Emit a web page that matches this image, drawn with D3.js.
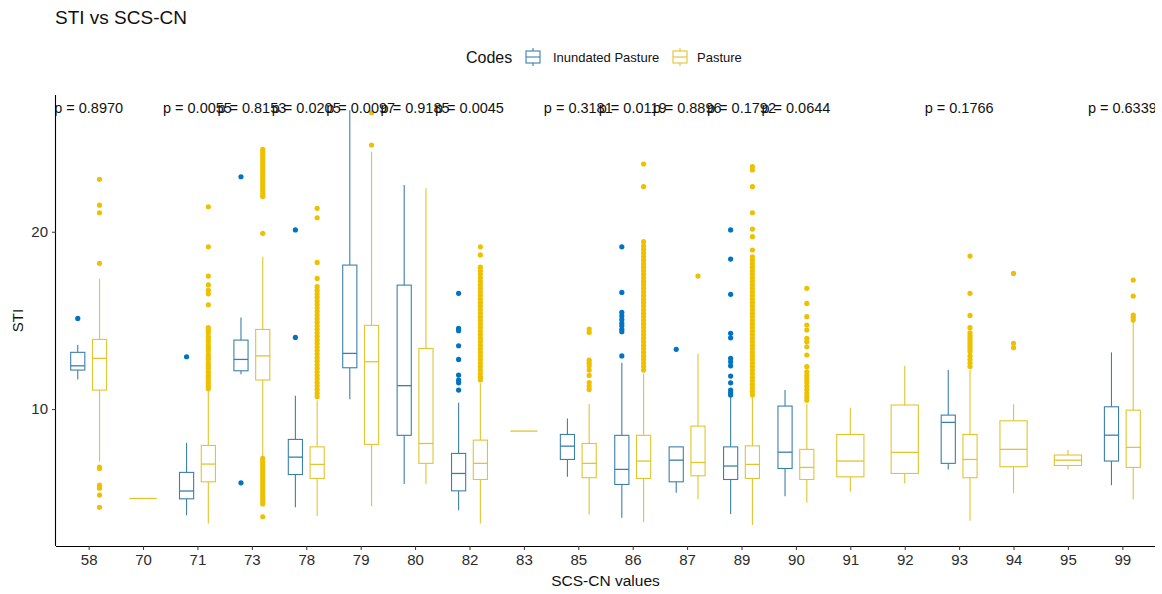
<!DOCTYPE html>
<html>
<head>
<meta charset="utf-8">
<script src="https://cdn.jsdelivr.net/npm/d3@7/dist/d3.min.js"></script>
<style>
  body { margin: 0; background: #fff; }
  svg { font-family: 'Liberation Sans', Arial, sans-serif; }
</style>
</head>
<body>
<svg id="chart"></svg>
<script>
// SCS-CN classes on the x axis
const categories = ['58', '70', '71', '73', '78', '79', '80', '82', '83', '85', '86', '87', '89', '90', '91', '92', '93', '94', '95', '99'];
const groups = ['Inundated Pasture', 'Pasture'];

// [cn, lower whisker, q1, median, q3, upper whisker]
const inundatedBoxes = [
  ['58', 11.67, 12.2, 12.44, 13.2, 13.61],
  ['71', 4.02, 4.94, 5.38, 6.43, 8.10],
  ['73', 11.97, 12.16, 12.8, 13.89, 15.17],
  ['78', 4.46, 6.31, 7.29, 8.29, 10.75],
  ['79', 10.55, 12.33, 13.14, 18.12, 26.85],
  ['80', 5.77, 8.52, 11.32, 16.99, 22.63],
  ['82', 4.3, 5.39, 6.37, 7.5, 10.36],
  ['85', 6.18, 7.16, 7.91, 8.57, 9.47],
  ['86', 3.87, 5.75, 6.6, 8.52, 12.61],
  ['87', 5.28, 5.9, 7.12, 7.87, 7.87],
  ['89', 4.08, 6.03, 6.79, 7.87, 10.69],
  ['90', 5.09, 6.65, 7.57, 10.17, 11.07],
  ['93', 6.6, 6.94, 9.25, 9.66, 12.2],
  ['99', 5.71, 7.07, 8.53, 10.13, 13.2]
];

const pastureBoxes = [
  ['58', 7.03, 11.07, 12.86, 13.93, 17.33],
  ['70', 4.96, 4.96, 4.96, 4.96, 4.96],
  ['71', 3.55, 5.9, 6.9, 7.95, 11.07],
  ['73', 7.31, 11.64, 13.0, 14.49, 18.59],
  ['78', 3.97, 6.09, 6.88, 7.87, 10.5],
  ['79', 4.53, 8.01, 12.67, 14.72, 24.51],
  ['80', 5.77, 6.94, 8.06, 13.42, 22.45],
  ['82', 3.55, 6.03, 6.94, 8.25, 11.45],
  ['83', 8.76, 8.76, 8.76, 8.76, 8.76],
  ['85', 4.06, 6.13, 6.94, 8.06, 10.28],
  ['86', 3.64, 6.09, 7.07, 8.52, 12.0],
  ['87', 4.92, 6.24, 6.99, 9.04, 13.14],
  ['89', 3.46, 6.09, 6.88, 7.93, 10.69],
  ['90', 4.72, 6.03, 6.71, 7.73, 10.28],
  ['91', 5.34, 6.18, 7.07, 8.57, 10.07],
  ['92', 5.81, 6.37, 7.56, 10.23, 12.44],
  ['93', 3.7, 6.13, 7.16, 8.57, 12.2],
  ['94', 5.28, 6.75, 7.73, 9.34, 10.27],
  ['95', 6.6, 6.82, 7.12, 7.41, 7.69],
  ['99', 4.92, 6.71, 7.84, 9.94, 14.93]
];

// outliers per class
const inundatedOutliers = [
  ['58', [15.11]],
  ['71', [12.95]],
  ['73', [23.1, 5.84]],
  ['78', [20.1, 14.04]],
  ['82', [16.53, 14.55, 14.42, 13.57, 12.8, 11.92, 11.64, 11.48, 11.07]],
  ['86', [19.15, 16.58, 15.45, 15.25, 15.05, 14.85, 14.7, 14.5, 14.36, 13.0]],
  ['87', [13.37]],
  ['89', [20.1, 18.46, 16.47, 14.27, 14.02, 12.86, 12.67, 12.44, 11.86, 11.48, 11.07, 10.92, 10.79]]
];

const pastureOutliers = [
  ['58', [22.96, 21.5, 21.07, 18.22, 6.73, 6.65, 5.71, 5.54, 5.15, 4.46]],
  ['71', [21.41, 19.15, 17.5, 17.0, 16.7, 16.5, 15.88, 14.59, 14.45, 14.3, 14.1, 13.95, 13.8, 13.6, 13.45,
          13.3, 13.1, 12.95, 12.8, 12.6, 12.45, 12.3, 12.1, 11.95, 11.8, 11.6, 11.45, 11.3, 11.15]],
  ['73', [24.65, 24.5, 24.35, 24.2, 24.05, 23.9, 23.75, 23.6, 23.45, 23.3, 23.15, 23.0, 22.85, 22.7, 22.55,
          22.4, 22.25, 22.1, 21.98, 19.91, 7.22, 7.05, 6.9, 6.75, 6.6, 6.45, 6.3, 6.15, 6.0, 5.85, 5.7, 5.55,
          5.4, 5.25, 5.1, 4.95, 4.8, 4.65, 3.93]],
  ['78', [21.32, 20.79, 18.27, 17.37, 16.9, 16.7, 16.5, 16.3, 16.1, 15.9, 15.7, 15.5, 15.3, 15.1, 14.9, 14.7,
          14.5, 14.3, 14.1, 13.9, 13.7, 13.5, 13.3, 13.1, 12.9, 12.7, 12.5, 12.3, 12.1, 11.9, 11.7, 11.5,
          11.3, 11.1, 10.9, 10.7]],
  ['79', [26.71, 24.89]],
  ['82', [19.15, 18.69, 18.0, 17.8, 17.6, 17.4, 17.2, 17.0, 16.8, 16.6, 16.4, 16.2, 16.0, 15.8, 15.6, 15.4,
          15.2, 15.0, 14.8, 14.6, 14.4, 14.2, 14.0, 13.8, 13.6, 13.4, 13.2, 13.0, 12.8, 12.6, 12.4, 12.2,
          12.0, 11.8, 11.64]],
  ['85', [14.51, 14.32, 12.76, 12.6, 12.45, 12.2, 11.9, 11.5, 11.3, 11.1]],
  ['86', [23.82, 22.54, 19.44, 19.2, 19.0, 18.8, 18.6, 18.4, 18.2, 18.0, 17.8, 17.6, 17.4, 17.2, 17.0, 16.8,
          16.6, 16.4, 16.2, 16.0, 15.8, 15.6, 15.4, 15.2, 15.0, 14.8, 14.6, 14.4, 14.2, 14.0, 13.8, 13.6,
          13.4, 13.2, 13.0, 12.8, 12.6, 12.4, 12.2]],
  ['87', [17.5]],
  ['89', [23.67, 23.48, 22.54, 21.07, 20.15, 19.72, 18.97, 18.59, 18.4, 18.2, 18.0, 17.8, 17.6, 17.4, 17.2,
          17.0, 16.8, 16.6, 16.4, 16.2, 16.0, 15.8, 15.6, 15.4, 15.2, 15.0, 14.8, 14.6, 14.4, 14.2, 14.0,
          13.8, 13.6, 13.4, 13.2, 13.0, 12.8, 12.6, 12.4, 12.2, 12.0, 11.8, 11.6, 11.4, 11.2, 11.0, 10.8]],
  ['90', [16.81, 15.96, 15.21, 14.74, 14.46, 13.99, 13.8, 13.51, 13.05, 12.39, 12.1, 11.9, 11.7, 11.5, 11.3,
          11.1, 10.9, 10.7, 10.5]],
  ['93', [18.63, 16.53, 15.28, 14.59, 14.3, 14.15, 14.0, 13.85, 13.7, 13.55, 13.4, 13.25, 13.0, 12.8, 12.6, 12.4]],
  ['94', [17.65, 13.71, 13.46]],
  ['99', [17.28, 16.37, 15.3, 15.17, 15.02]]
];

// comparison labels (one per class with both codes)
const pLabels = [
  ['58', 'p = 0.8970'], ['71', 'p = 0.0055'], ['73', 'p = 0.8153'], ['78', 'p = 0.0205'],
  ['79', 'p = 0.0097'], ['80', 'p = 0.9185'], ['82', 'p = 0.0045'], ['85', 'p = 0.3181'],
  ['86', 'p = 0.0119'], ['87', 'p = 0.8896'], ['89', 'p = 0.1792'], ['90', 'p = 0.0644'],
  ['93', 'p = 0.1766'], ['99', 'p = 0.6339']
];
const pLabelY = 27.0;

const yTicks = [10, 20];
const pointColors = ['#0073C2', '#EFC000'];
const lineColors = ['#3B80AA', '#E2C430'];

const width = 1162;
const height = 594;
const panel = { left: 56, right: 1155, top: 95, bottom: 546 };

const svg = d3.select('#chart')
  .attr('width', width)
  .attr('height', height);

const x = d3.scalePoint()
  .domain(categories)
  .range([panel.left, panel.right])
  .padding(0.6);

const y = d3.scaleLinear()
  .domain([2.28, 27.71])
  .range([panel.bottom, panel.top]);

const pointColor = d3.scaleOrdinal().domain(groups).range(pointColors);
const lineColor = d3.scaleOrdinal().domain(groups).range(lineColors);
const step = x.step();

// which codes appear in each class -> dodge position
const present = {};
categories.forEach(c => { present[c] = []; });
inundatedBoxes.forEach(b => present[b[0]].push(groups[0]));
pastureBoxes.forEach(b => present[b[0]].push(groups[1]));

function slot(cat, group) {
  const g = present[cat];
  if (g.length === 1) return { cx: x(cat), w: step * 0.5 };
  const off = group === groups[0] ? -0.2 : 0.2;
  return { cx: x(cat) + off * step, w: step * 0.26 };
}

svg.append('defs').append('clipPath').attr('id', 'panelClip')
  .append('rect')
  .attr('x', panel.left)
  .attr('y', 0)
  .attr('width', panel.right - panel.left)
  .attr('height', panel.bottom);

const plot = svg.append('g').attr('clip-path', 'url(#panelClip)');

function drawGroup(boxes, outliers, group) {
  const g = plot.append('g');

  outliers.forEach(([cat, vals]) => {
    const s = slot(cat, group);
    g.selectAll(null)
      .data(vals)
      .enter()
      .append('circle')
      .attr('cx', s.cx)
      .attr('cy', d => y(d))
      .attr('r', 2.6)
      .attr('fill', pointColor(group));
  });

  boxes.forEach(([cat, lo, q1, med, q3, hi]) => {
    const s = slot(cat, group);
    const bg = g.append('g')
      .attr('stroke', lineColor(group))
      .attr('stroke-width', 1.1)
      .attr('fill', '#fff');
    bg.append('line')
      .attr('x1', s.cx).attr('x2', s.cx)
      .attr('y1', y(hi)).attr('y2', y(q3));
    bg.append('line')
      .attr('x1', s.cx).attr('x2', s.cx)
      .attr('y1', y(q1)).attr('y2', y(lo));
    bg.append('rect')
      .attr('x', s.cx - s.w / 2)
      .attr('y', y(q3))
      .attr('width', s.w)
      .attr('height', Math.max(0, y(q1) - y(q3)));
    bg.append('line')
      .attr('x1', s.cx - s.w / 2).attr('x2', s.cx + s.w / 2)
      .attr('y1', y(med)).attr('y2', y(med))
      .attr('stroke-width', 1.3);
  });
}

drawGroup(inundatedBoxes, inundatedOutliers, groups[0]);
drawGroup(pastureBoxes, pastureOutliers, groups[1]);

// p-value labels
plot.selectAll('.plab')
  .data(pLabels)
  .enter()
  .append('text')
  .attr('class', 'plab')
  .attr('x', d => x(d[0]))
  .attr('y', y(pLabelY))
  .attr('dy', '0.35em')
  .attr('text-anchor', 'middle')
  .style('font-size', '14.5px')
  .style('fill', '#111')
  .text(d => d[1]);

// axes
const xAxis = svg.append('g')
  .attr('transform', `translate(0,${panel.bottom})`)
  .call(d3.axisBottom(x).tickSize(4).tickSizeOuter(0).tickPadding(4));
xAxis.select('.domain').attr('d', `M${panel.left},0.5H${panel.right}`).attr('stroke', '#000').attr('stroke-width', 1.1);
xAxis.selectAll('.tick line').attr('stroke', '#333');
xAxis.selectAll('.tick text').style('font-size', '15px').style('fill', '#2b2b2b');

const yAxis = svg.append('g')
  .attr('transform', `translate(${panel.left},0)`)
  .call(d3.axisLeft(y).tickValues(yTicks).tickSize(4).tickSizeOuter(0).tickPadding(4));
yAxis.select('.domain').attr('d', `M-0.5,${panel.top}V${panel.bottom}`).attr('stroke', '#000').attr('stroke-width', 1.1);
yAxis.selectAll('.tick line').attr('stroke', '#333');
yAxis.selectAll('.tick text').style('font-size', '15px').style('fill', '#2b2b2b');

// axis titles
svg.append('text')
  .attr('x', (panel.left + panel.right) / 2)
  .attr('y', 586)
  .attr('text-anchor', 'middle')
  .style('font-size', '15.5px')
  .style('fill', '#111')
  .text('SCS-CN values');

svg.append('text')
  .attr('transform', `translate(23,${(panel.top + panel.bottom) / 2}) rotate(-90)`)
  .attr('text-anchor', 'middle')
  .style('font-size', '15px')
  .style('fill', '#111')
  .text('STI');

// title
svg.append('text')
  .attr('x', 55)
  .attr('y', 24)
  .style('font-size', '19px')
  .style('fill', '#111')
  .text('STI vs SCS-CN');

// legend
const legend = svg.append('g').attr('transform', 'translate(0,57)');
legend.append('text')
  .attr('x', 466)
  .attr('dy', '0.35em')
  .style('font-size', '16px')
  .style('fill', '#111')
  .text('Codes');

const legendItems = [
  { group: groups[0], keyX: 533, textX: 553 },
  { group: groups[1], keyX: 680, textX: 697 }
];
legendItems.forEach(item => {
  const k = legend.append('g')
    .attr('stroke', lineColor(item.group))
    .attr('stroke-width', 1.1)
    .attr('fill', '#fff');
  k.append('line').attr('x1', item.keyX).attr('x2', item.keyX).attr('y1', -9).attr('y2', 9);
  k.append('rect').attr('x', item.keyX - 7).attr('y', -6).attr('width', 14).attr('height', 12);
  k.append('line').attr('x1', item.keyX - 7).attr('x2', item.keyX + 7).attr('y1', 0).attr('y2', 0);
  legend.append('text')
    .attr('x', item.textX)
    .attr('dy', '0.35em')
    .style('font-size', '13px')
    .style('fill', '#111')
    .text(item.group);
});
</script>
</body>
</html>
